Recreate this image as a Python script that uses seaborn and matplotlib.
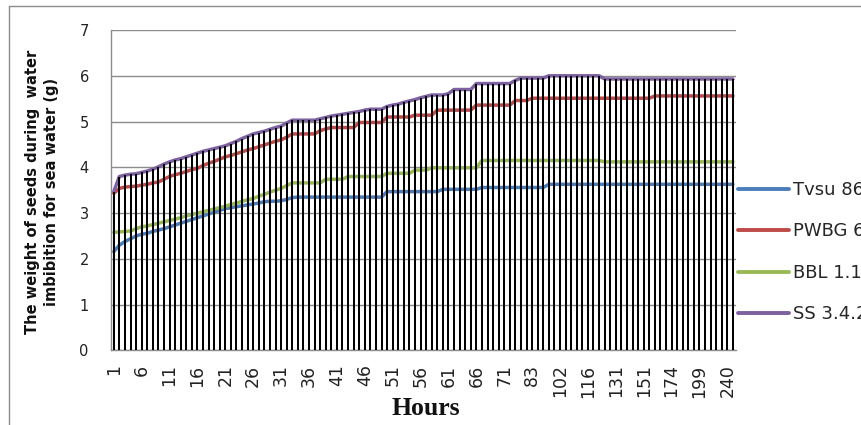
import matplotlib
matplotlib.use("Agg")
import matplotlib.pyplot as plt
from matplotlib.lines import Line2D
import numpy as np
import pandas as pd
import seaborn as sns

# Hours at which the seeds were weighed (one category per weighing)
hours = list(range(1, 72)) + [73, 75, 77, 80, 83, 87, 91, 95, 98, 102,
                              105, 108, 110, 113, 116, 119, 122, 125, 128, 131,
                              135, 139, 143, 147, 151, 155, 160, 164, 169, 174,
                              179, 184, 189, 194, 199, 207, 215, 223, 231, 240, 248]

varieties = ["Tvsu 86", "PWBG 6", "BBL 1.1", "SS 3.4.2"]

# Seed weight (g) during imbibition in sea water
tvsu = ([2.16, 2.30, 2.38, 2.44, 2.50, 2.54, 2.56, 2.60, 2.63, 2.66,
         2.70, 2.74, 2.78, 2.82, 2.86, 2.90, 2.94, 2.98, 3.02, 3.06,
         3.10, 3.12, 3.14, 3.16, 3.18, 3.20, 3.22, 3.25, 3.26, 3.26,
         3.27, 3.30, 3.34] + [3.35] * 16 + [3.47] * 10 + [3.52] * 7
        + [3.56] * 12 + [3.63] * 34)

pwbg = ([3.43, 3.54, 3.57, 3.58, 3.59, 3.61, 3.63, 3.66, 3.68, 3.74,
         3.80, 3.84, 3.87, 3.91, 3.95, 3.98, 4.04, 4.09, 4.13, 4.18,
         4.23, 4.26, 4.30, 4.34, 4.38, 4.41, 4.45, 4.49, 4.53, 4.57,
         4.60, 4.66] + [4.73] * 5 + [4.80, 4.84] + [4.87] * 5 + [4.98] * 5
        + [5.10] * 5 + [5.14] * 4 + [5.25] * 7 + [5.36] * 7 + [5.46] * 3
        + [5.51] * 22 + [5.56] * 15)

bbl = ([2.58, 2.59, 2.60, 2.61, 2.66, 2.70, 2.72, 2.75, 2.78, 2.81,
        2.84, 2.87, 2.90, 2.94, 2.97, 3.00, 3.03, 3.06, 3.09, 3.12,
        3.15, 3.19, 3.22, 3.26, 3.29, 3.32, 3.37, 3.41, 3.46, 3.50,
        3.54, 3.60] + [3.66] * 6 + [3.74] * 4 + [3.80] * 7 + [3.87] * 5
       + [3.94] * 3 + [3.99] * 9 + [4.15] * 22 + [4.12] * 24)

ss = ([3.47, 3.80, 3.83, 3.85, 3.86, 3.89, 3.92, 3.96, 4.01, 4.07,
       4.12, 4.16, 4.19, 4.23, 4.27, 4.31, 4.35, 4.38, 4.41, 4.44,
       4.47, 4.52, 4.57, 4.63, 4.68, 4.73, 4.76, 4.79, 4.83, 4.87,
       4.90, 4.97] + [5.03] * 5 + [5.06, 5.09, 5.12, 5.14, 5.16, 5.18, 5.20,
                                   5.22, 5.25, 5.27, 5.27, 5.27, 5.33, 5.36,
                                   5.38, 5.42, 5.45, 5.48, 5.52, 5.55]
      + [5.58] * 3 + [5.61] + [5.70] * 4 + [5.83] * 7 + [5.90] + [5.95] * 5
      + [6.00] * 10 + [5.93] * 24)

colors = ["#4A7EBB", "#BE4B48", "#98B954", "#7D60A0"]

wide = pd.DataFrame({"pos": np.arange(len(hours)), "hour": hours,
                     varieties[0]: tvsu, varieties[1]: pwbg,
                     varieties[2]: bbl, varieties[3]: ss})
long = wide.melt(id_vars=["pos", "hour"], value_vars=varieties,
                 var_name="Variety", value_name="weight")

sns.set_style("white")
plt.rcParams["font.family"] = ["DejaVu Sans"]

fig = plt.figure(figsize=(8.61, 4.25), dpi=100)
ax = fig.add_axes([0.1289, 0.1753, 0.7256, 0.7541])

sns.lineplot(data=long, x="pos", y="weight", hue="Variety",
             hue_order=varieties, palette=colors, linewidth=2.5,
             errorbar=None, legend=False, ax=ax, zorder=2)

# drop lines from the highest series down to the axis
top = wide[varieties].max(axis=1)
ax.vlines(wide["pos"], 0, top, colors="black", linewidth=1.45, zorder=3)

ax.set_xlim(-0.5, len(hours) - 0.5)
ax.set_ylim(0, 7)
ax.set_yticks(range(0, 8))
tick_pos = wide["pos"][::5]
ax.set_xticks(tick_pos)
ax.set_xticklabels([str(h) for h in wide["hour"][::5]], rotation=90,
                   fontsize=12.5, color="#222222")
ax.tick_params(axis="x", length=0, pad=10)
ax.tick_params(axis="y", length=5, width=1, color="#8c8c8c", pad=11,
               labelsize=10.5, labelcolor="#222222")

ax.yaxis.grid(True, color="#8c8c8c", linewidth=1.0)
ax.xaxis.grid(False)
ax.set_axisbelow(True)
for side in ["top", "right"]:
    ax.spines[side].set_visible(False)
for side in ["left", "bottom"]:
    ax.spines[side].set_color("#8c8c8c")
    ax.spines[side].set_linewidth(1.0)

ax.set_xlabel("")
ax.set_ylabel("")

fig.text(0.049, 0.548,
         "The weight of seeds during  water\nimbibition for sea water (g)",
         rotation=90, ha="center", va="center", multialignment="center",
         fontsize=10.5, fontweight="bold", linespacing=1.35, color="#111111")
fig.text(0.494, 0.038, "Hours", ha="center", va="center",
         fontsize=18.5, fontweight="bold", family=["Liberation Serif"],
         color="#111111")

handles = [Line2D([], [], color=c, linewidth=2.8) for c in colors]
fig.legend(handles, varieties, loc="upper left",
           bbox_to_anchor=(738 / 861, 1 - 181 / 425), frameon=False,
           fontsize=13, handlelength=2.8, handletextpad=0.25,
           labelspacing=1.3, borderpad=0, borderaxespad=0)

# outer chart frame
fig.add_artist(Line2D([9 / 861, 1.0], [1 - 6 / 425, 1 - 6 / 425],
                      transform=fig.transFigure, color="#8c8c8c", lw=1.0))
fig.add_artist(Line2D([9 / 861, 9 / 861], [0.0, 1 - 6 / 425],
                      transform=fig.transFigure, color="#8c8c8c", lw=1.0))

fig.savefig("out.png", dpi=100)
